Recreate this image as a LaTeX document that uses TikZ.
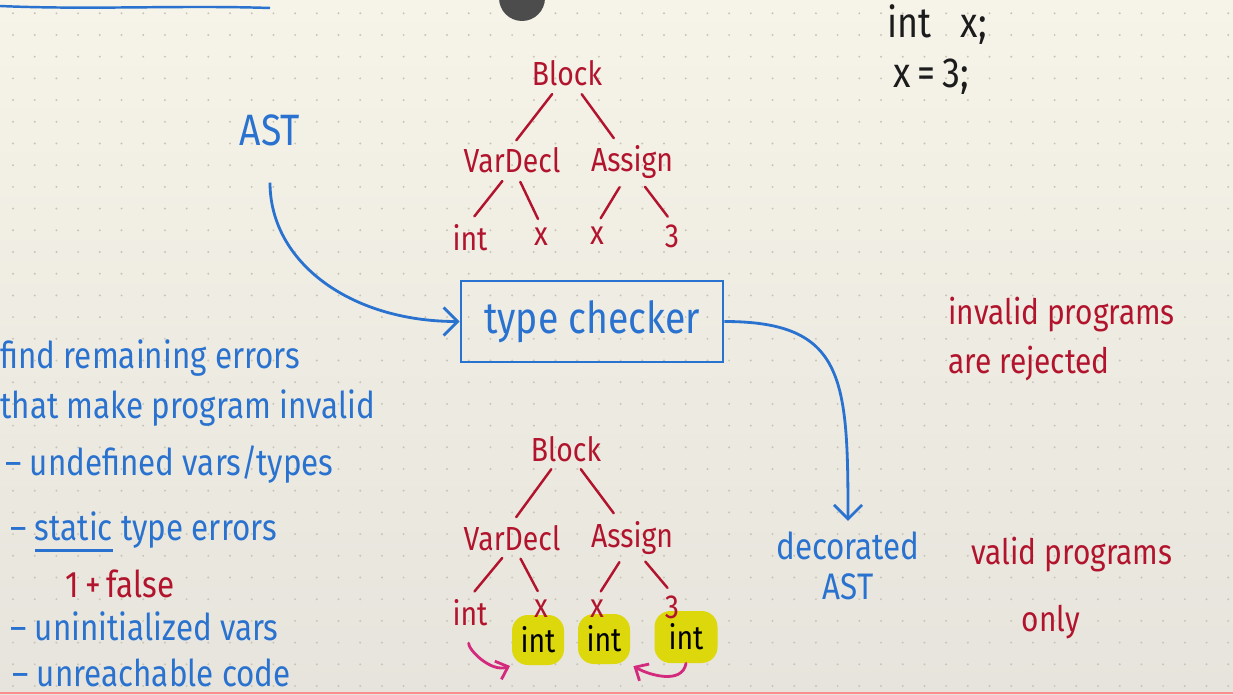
\documentclass[tikz,border=0pt]{standalone}
\usepackage{fontspec}
\setmainfont{Fira Sans}[FakeStretch=0.85]
\usetikzlibrary{arrows.meta}
\definecolor{penblue}{HTML}{2A72CF}
\definecolor{astred}{HTML}{B2142D}
\definecolor{ink}{HTML}{1C1C1C}
\definecolor{penpink}{HTML}{D42A7E}
\definecolor{hlyellow}{HTML}{DCD80C}
\definecolor{bgtop}{HTML}{F6F3E8}
\definecolor{bgbot}{HTML}{E6E4DC}
\definecolor{dotgray}{HTML}{C8C4B8}
\newcommand\lowul[1]{\leavevmode\setbox0\hbox{#1}\rlap{\rule[-7pt]{\wd0}{1.6pt}}\box0\relax}

\begin{document}
\begin{tikzpicture}[x=0.02cm, y=0.02cm,
    tree/.style={text=astred, font=\fontsize{19}{23}\selectfont, anchor=base, inner sep=1pt},
    edge/.style={astred, line width=1.4pt, line cap=round, shorten <=4pt, shorten >=4pt},
    note/.style={text=penblue, font=\fontsize{21}{25}\selectfont, anchor=base west, inner sep=0pt},
    rednote/.style={text=astred, font=\fontsize{20}{26}\selectfont, inner sep=0pt},
    code/.style={text=ink, font=\fontsize{24}{28}\selectfont, anchor=base west, inner sep=0pt},
    flow/.style={penblue, line width=1.6pt, -{Straight Barb[length=8pt, width=16pt, line width=1.6pt]}},
    back/.style={penpink, line width=1.6pt, line cap=round, -{Straight Barb[length=6pt, width=11pt, line width=1.6pt]}},
    hl/.style={fill=hlyellow, rounded corners=9pt, minimum width=1.04cm, minimum height=1cm, inner sep=0pt, text=black, font=\fontsize{19}{23}\selectfont}
]
    % paper
    \clip (0,0) rectangle (1233,694);
    \shade[top color=bgtop, bottom color=bgbot] (0,0) rectangle (1233,694);
    \foreach \i in {0,...,56}
        \foreach \j in {0,...,32}
            \fill[dotgray] (13+\i*21.7, 8+\j*21.7) circle (1.1);
    \draw[penblue, line width=1.4pt] (0,688) .. controls (90,684) and (180,689) .. (270,686);
    \fill[black!70] (522,696) circle (23);
    \draw[red!45, line width=0.8pt] (0,1) -- (1233,1);

    % source code
    \node[code] (c1) at (887,656) {int\hspace{0.7em}x;};
    \node[code] (c2) at (893,606) {x\,=\,3;};

    % AST before checking
    \node[tree] (b1) at (567,608) {Block};
    \node[tree] (v1) at (512,521) {VarDecl};
    \node[tree] (a1) at (632,522) {Assign};
    \node[tree] (i1) at (470,444) {int};
    \node[tree] (x1) at (541,449) {x};
    \node[tree] (y1) at (597,450) {x};
    \node[tree] (n1) at (672,447) {3};
    \draw[edge] ([xshift=-6pt]b1.south) -- (v1.north);
    \draw[edge] ([xshift=6pt]b1.south) -- ([xshift=-8pt]a1.north);
    \draw[edge] ([xshift=-3pt]v1.south) -- (i1.north);
    \draw[edge] ([xshift=3pt]v1.south) -- (x1.north);
    \draw[edge] ([xshift=-5pt]a1.south) -- (y1.north);
    \draw[edge] ([xshift=5pt]a1.south) -- (n1.north);

    % checker
    \node[text=penblue, font=\fontsize{25}{30}\selectfont, anchor=base] (ast) at (270,548) {AST};
    \node[draw=penblue, line width=1.6pt, text=penblue, font=\fontsize{25}{30}\selectfont,
          minimum width=5.24cm, minimum height=1.62cm] (tc) at (592,372.5) {type checker};
    \node[text=penblue, font=\fontsize{21}{23}\selectfont, align=center, anchor=north, inner sep=2pt]
          (dec) at (848,166) {decorated\\AST};
    \draw[flow, shorten <=17pt] (ast.south) to[out=-90, in=180, looseness=1.1] (tc.west);
    \draw[flow, shorten >=4pt] (tc.east) .. controls +(120,0) and +(0,150) .. (dec.north);

    \node[rednote, align=left, anchor=north west] (rej) at (948,397) {invalid programs\\[2pt]are rejected};
    \node[rednote, align=center, anchor=north] (ok) at (1072,157) {valid programs\\[12pt]\hspace*{-1.2em}only};

    % list of errors
    \node[note] (l1) at (0,326) {find remaining errors};
    \node[note] (l2) at (0,276) {that make program invalid};
    \node[note] (l3) at (5,219) {– undefined vars/types};
    \node[note] (l4) at (10,154) {– \lowul{static} type errors};
    \node[note, text=astred] (l5) at (65,97) {1\,+\,false};
    \node[note] (l6) at (10,54) {– uninitialized vars};
    \node[note] (l7) at (12,8) {– unreachable code};

    % AST after checking
    \node[hl] (t1) at (538,54) {int};
    \node[hl] (t2) at (604,55) {int};
    \node[hl, minimum width=1.26cm, minimum height=1.04cm] (t3) at (686,57) {int};
    \node[tree] (b2) at (566,233) {Block};
    \node[tree] (v2) at (512,144) {VarDecl};
    \node[tree] (a2) at (632,147) {Assign};
    \node[tree] (i2) at (470,69) {int};
    \node[tree] (x2) at (541,77) {x};
    \node[tree] (y2) at (597,77) {x};
    \node[tree] (n2) at (672,76) {3};
    \draw[edge] ([xshift=-6pt]b2.south) -- (v2.north);
    \draw[edge] ([xshift=6pt]b2.south) -- ([xshift=-8pt]a2.north);
    \draw[edge] ([xshift=-3pt]v2.south) -- (i2.north);
    \draw[edge] ([xshift=3pt]v2.south) -- (x2.north);
    \draw[edge] ([xshift=-5pt]a2.south) -- (y2.north);
    \draw[edge] ([xshift=5pt]a2.south) -- (n2.north);
    \draw[back, shorten <=9pt, shorten >=1pt] (i2.south) to[out=-95, in=200] (t1.south west);
    \draw[back, shorten >=2pt] (t3.south) to[out=-100, in=-30] (t2.south east);
\end{tikzpicture}
\end{document}
